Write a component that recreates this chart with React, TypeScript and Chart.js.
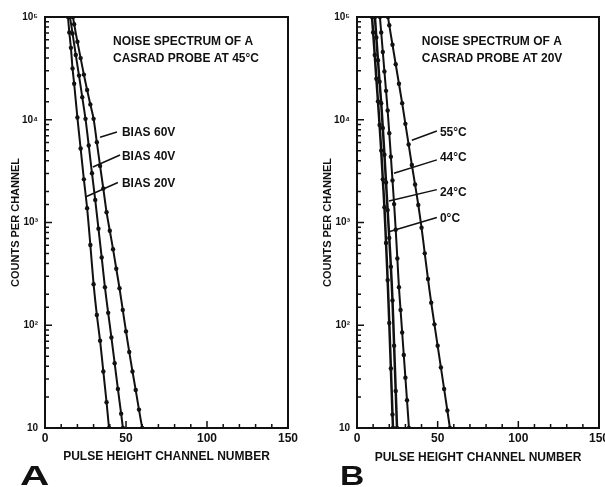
import { useEffect, useRef } from "react";
import { Chart, registerables } from "chart.js";
Chart.register(...registerables);

// ---- Panel A: bias series (channel, counts) ----
const bias20Channels = [14.2, 15, 16, 17, 18, 20, 22, 24, 26, 28, 30, 32, 34, 36, 38, 39.5];
const bias20Counts = [100000, 70800, 50100, 31600, 22400, 10500, 5250, 2630, 1380, 603, 251, 126, 70.8, 35.5, 17.8, 10];
const bias40Channels = [15.4, 17, 19, 21, 23, 25, 27, 29, 31, 33, 35, 37, 39, 41, 43, 45, 47, 48.1];
const bias40Counts = [100000, 69200, 42700, 26900, 16600, 10200, 5620, 3020, 1660, 871, 457, 234, 132, 75.9, 42.7, 24, 13.8, 10];
const bias60Channels = [17.3, 18, 20, 22, 24, 26, 28, 30, 32, 34, 36, 38, 40, 42, 44, 46, 48, 50, 52, 54, 56, 58, 60];
const bias60Counts = [100000, 85100, 57500, 39800, 27500, 19500, 14100, 10200, 6030, 3550, 2140, 1260, 832, 550, 355, 229, 141, 87.1, 55, 35.5, 23.4, 15.1, 10];

// ---- Panel B: temperature series ----
const t0Channels = [9.3, 10, 11, 12, 13, 14, 15, 16, 17, 18, 19, 20, 21, 22, 22.3];
const t0Counts = [100000, 70800, 42700, 25100, 15100, 8910, 5010, 2630, 1410, 631, 275, 105, 38, 13.5, 10];
const t24Channels = [11.1, 12, 13, 14, 15, 16, 17, 18, 19, 20, 21, 22, 23, 24, 24.8];
const t24Counts = [100000, 63100, 38000, 23400, 14500, 8320, 4570, 2450, 1320, 708, 372, 174, 63.1, 22.9, 10];
const t44Channels = [14.2, 15, 16, 17, 18, 19, 20, 21, 22, 23, 24, 25, 26, 27, 28, 29, 30, 31, 32.2];
const t44Counts = [100000, 70800, 45700, 29500, 19100, 12300, 7410, 4370, 2570, 1510, 851, 447, 234, 141, 85.1, 51.3, 30.9, 18.6, 10];
const t55Channels = [19.2, 20, 22, 24, 26, 28, 30, 32, 34, 36, 38, 40, 42, 44, 46, 48, 50, 52, 54, 56, 57.6];
const t55Counts = [100000, 83200, 53700, 34700, 22400, 14500, 9120, 5750, 3630, 2340, 1480, 891, 501, 282, 166, 102, 63.1, 38.9, 24, 14.8, 10];

// ---- Axes ----
const xMin = 0;
const xMax = 150;
const xStep = 10;
const xLabelEvery = 50;
const yMin = 10;
const yMax = 100000;
const xTitle = "PULSE HEIGHT CHANNEL NUMBER";
const yTitle = "COUNTS PER CHANNEL";

// ---- Annotations (data coordinates) ----
const titleA = ["NOISE SPECTRUM OF A", "CASRAD PROBE AT 45°C"];
const titleB = ["NOISE SPECTRUM OF A", "CASRAD PROBE AT 20V"];
const labelsA = [
  { text: "BIAS 60V", fx: 34, fy: 6760, tx: 44.4, ty: 7590, lx: 47.5, ly: 7400 },
  { text: "BIAS 40V", fx: 29.6, fy: 3470, tx: 46.3, ty: 4540, lx: 47.5, ly: 4370 },
  { text: "BIAS 20V", fx: 25.3, fy: 1780, tx: 45, ty: 2450, lx: 47.5, ly: 2400 },
];
const labelsB = [
  { text: "55°C", fx: 34, fy: 6310, tx: 49.5, ty: 7760, lx: 51.4, ly: 7410 },
  { text: "44°C", fx: 22.9, fy: 3020, tx: 49.5, ty: 4070, lx: 51.4, ly: 4270 },
  { text: "24°C", fx: 19.8, fy: 1620, tx: 49.5, ty: 2090, lx: 51.4, ly: 1950 },
  { text: "0°C", fx: 19.8, fy: 813, tx: 49.5, ty: 1120, lx: 51.4, ly: 1100 },
];

const FONT = '"Liberation Sans", "DejaVu Sans", Arial, sans-serif';
const INK = "#111";
const SUP: Record<number, string> = { 2: "²", 3: "³", 4: "⁴", 5: "⁵" };

function toPoints(xs: number[], ys: number[]) {
  return xs.map((x, i) => ({ x, y: ys[i] }));
}

function series(xs: number[], ys: number[], width = 2) {
  return {
    data: toPoints(xs, ys),
    borderColor: INK,
    backgroundColor: INK,
    borderWidth: width,
    pointRadius: 2.2,
    pointBorderWidth: 0,
    pointBackgroundColor: INK,
    tension: 0.3,
    clip: 0,
  };
}

interface Panel {
  datasets: any[];
  title: string[];
  titleX: number;
  titleY: number[];
  labels: typeof labelsA;
  letter: string;
  letterX: number;
  letterScale: number;
  left: number;
  right: number;
  yTitlePad: number;
  xTitlePad: number;
}

function makeChart(canvas: HTMLCanvasElement, p: Panel) {
  const plotBottom = 428;
  const overlay = {
    id: "overlay",
    afterDraw(chart: any) {
      const { ctx, chartArea: a, scales } = chart;
      const xs = scales.x;
      const ys = scales.y;
      ctx.save();
      ctx.strokeStyle = INK;
      ctx.fillStyle = INK;
      // inward ticks
      ctx.lineWidth = 1.5;
      ctx.beginPath();
      xs.ticks.forEach((t: any) => {
        const px = xs.getPixelForValue(t.value);
        const len = t.value % xLabelEvery === 0 ? 7 : 4;
        ctx.moveTo(px, a.bottom);
        ctx.lineTo(px, a.bottom - len);
      });
      ys.ticks.forEach((t: any) => {
        const py = ys.getPixelForValue(t.value);
        const e = Math.log10(t.value);
        const major = Math.abs(e - Math.round(e)) < 1e-6;
        ctx.moveTo(a.left, py);
        ctx.lineTo(a.left + (major ? 7 : 4), py);
      });
      ctx.stroke();
      // frame
      ctx.lineWidth = 2;
      ctx.strokeRect(a.left, a.top, a.right - a.left, a.bottom - a.top);
      // leaders and labels
      ctx.lineWidth = 1.5;
      ctx.font = `bold 12px ${FONT}`;
      ctx.textAlign = "left";
      ctx.textBaseline = "middle";
      p.labels.forEach((l) => {
        ctx.beginPath();
        ctx.moveTo(xs.getPixelForValue(l.fx), ys.getPixelForValue(l.fy));
        ctx.lineTo(xs.getPixelForValue(l.tx), ys.getPixelForValue(l.ty));
        ctx.stroke();
        ctx.fillText(l.text, xs.getPixelForValue(l.lx), ys.getPixelForValue(l.ly));
      });
      // panel title
      p.title.forEach((line, i) => {
        ctx.fillText(line, xs.getPixelForValue(p.titleX), ys.getPixelForValue(p.titleY[i]));
      });
      // panel letter
      ctx.font = `900 28px ${FONT}`;
      ctx.textBaseline = "alphabetic";
      ctx.translate(p.letterX, 485);
      ctx.scale(p.letterScale, 1);
      ctx.fillText(p.letter, 0, 0);
      ctx.restore();
    },
  };

  return new Chart(canvas, {
    type: "line",
    data: { datasets: p.datasets },
    options: {
      animation: false,
      responsive: false,
      maintainAspectRatio: false,
      layout: { padding: { left: 0, right: p.right, top: 17, bottom: 0 } },
      plugins: { legend: { display: false }, tooltip: { enabled: false } },
      scales: {
        x: {
          type: "linear",
          min: xMin,
          max: xMax,
          grid: { display: false, drawTicks: false, tickLength: 0 },
          border: { display: false },
          ticks: {
            stepSize: xStep,
            autoSkip: false,
            maxRotation: 0,
            padding: 3,
            color: INK,
            font: { family: FONT, size: 12, weight: "bold" },
            callback: (v: any) => (Number(v) % xLabelEvery === 0 ? String(v) : ""),
          },
          title: {
            display: true,
            text: xTitle,
            color: INK,
            font: { family: FONT, size: 12, weight: "bold" },
            padding: { top: 0, bottom: p.xTitlePad },
          },
          afterFit: (s: any) => {
            s.height = 487 - plotBottom;
            s.paddingLeft = 0;
            s.paddingRight = 0;
          },
        },
        y: {
          type: "logarithmic",
          min: yMin,
          max: yMax,
          grid: { display: false, drawTicks: false, tickLength: 0 },
          border: { display: false },
          ticks: {
            autoSkip: false,
            padding: 7,
            color: INK,
            font: { family: FONT, size: 10, weight: "bold" },
            callback: (v: any) => {
              const e = Math.log10(Number(v));
              const n = Math.round(e);
              if (Math.abs(e - n) > 1e-6) return "";
              return n === 1 ? "10" : "10" + (SUP[n] || "");
            },
          },
          title: {
            display: true,
            text: yTitle,
            color: INK,
            font: { family: FONT, size: 11, weight: "bold" },
            padding: { top: p.yTitlePad, bottom: 0 },
          },
          afterFit: (s: any) => {
            s.width = p.left;
            s.paddingTop = 0;
            s.paddingBottom = 0;
          },
        },
      },
    } as any,
    plugins: [overlay],
  });
}

export default function App() {
  const refA = useRef<HTMLCanvasElement>(null);
  const refB = useRef<HTMLCanvasElement>(null);

  useEffect(() => {
    const a = makeChart(refA.current!, {
      datasets: [
        series(bias20Channels, bias20Counts),
        series(bias40Channels, bias40Counts),
        series(bias60Channels, bias60Counts),
      ],
      title: titleA,
      titleX: 42,
      titleY: [57100, 39000],
      labels: labelsA,
      letter: "A",
      letterX: 20,
      letterScale: 1.45,
      left: 45,
      right: 12,
      yTitlePad: 9,
      xTitlePad: 23,
    });
    const b = makeChart(refB.current!, {
      datasets: [
        series(t0Channels, t0Counts, 2.5),
        series(t24Channels, t24Counts, 2.5),
        series(t44Channels, t44Counts),
        series(t55Channels, t55Counts),
      ],
      title: titleB,
      titleX: 40.2,
      titleY: [57100, 39000],
      labels: labelsB,
      letter: "B",
      letterX: 40,
      letterScale: 1.2,
      left: 57,
      right: 6,
      yTitlePad: 21,
      xTitlePad: 22,
    });
    return () => {
      a.destroy();
      b.destroy();
    };
  }, []);

  return (
    <div style={{ position: "fixed", left: 0, top: 0, width: 605, height: 487, background: "#fff" }}>
      <canvas ref={refA} width={300} height={487} style={{ position: "absolute", left: 0, top: 0, width: 300, height: 487 }} />
      <canvas ref={refB} width={305} height={487} style={{ position: "absolute", left: 300, top: 0, width: 305, height: 487 }} />
    </div>
  );
}
